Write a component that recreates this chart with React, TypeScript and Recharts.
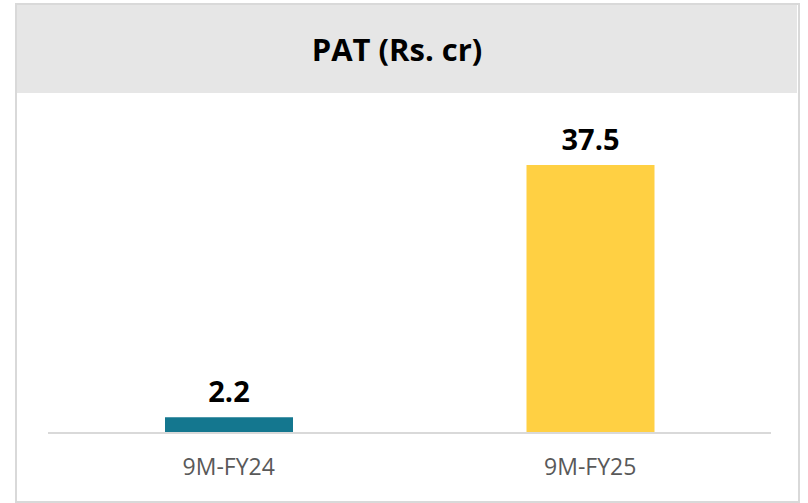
import { BarChart, Bar, XAxis, YAxis, Cell, LabelList } from "recharts";

const categories = ["9M-FY24", "9M-FY25"];
const patValues = [2.2, 37.5];
const barColors = ["#14778F", "#FFD043"];
const title = "PAT (Rs. cr)";

const data = categories.map((name, i) => ({ name, value: patValues[i] }));

const fontFamily = "'Open Sans', 'Noto Sans', sans-serif";

export default function App() {
  return (
    <div style={{ position: "absolute", left: 0, top: 0, width: 808, height: 503, background: "#fff" }}>
      {/* outer frame */}
      <div
        style={{
          position: "absolute",
          left: 15,
          top: 3,
          width: 781,
          height: 496,
          border: "2px solid #D9D9D9",
        }}
      />
      {/* header band */}
      <div
        style={{
          position: "absolute",
          left: 17,
          top: 5,
          width: 780,
          height: 88,
          background: "#E6E6E6",
        }}
      />
      <div
        style={{
          position: "absolute",
          left: 17,
          top: 5,
          width: 760,
          height: 88,
          display: "flex",
          alignItems: "center",
          justifyContent: "center",
          fontFamily,
          fontWeight: 700,
          fontSize: 31,
          color: "#000",
        }}
      >
        {title}
      </div>
      <div style={{ position: "absolute", left: 0, top: 0 }}>
        <BarChart
          width={808}
          height={503}
          data={data}
          margin={{ top: 147, right: 37, bottom: 30, left: 48 }}
          barCategoryGap="32%"
        >
          <XAxis
            dataKey="name"
            height={40}
            axisLine={{ stroke: "#D9D9D9", strokeWidth: 2 }}
            tickLine={false}
            tickMargin={20}
            tick={{ fill: "#595959", fontSize: 23, fontFamily }}
          />
          <YAxis hide domain={[0, 40]} />
          <Bar dataKey="value" barSize={128} isAnimationActive={false}>
            {data.map((d, i) => (
              <Cell key={d.name} fill={barColors[i]} />
            ))}
            <LabelList
              dataKey="value"
              position="top"
              offset={15}
              style={{ fill: "#000", fontSize: 29, fontWeight: 700, fontFamily }}
            />
          </Bar>
        </BarChart>
      </div>
    </div>
  );
}
